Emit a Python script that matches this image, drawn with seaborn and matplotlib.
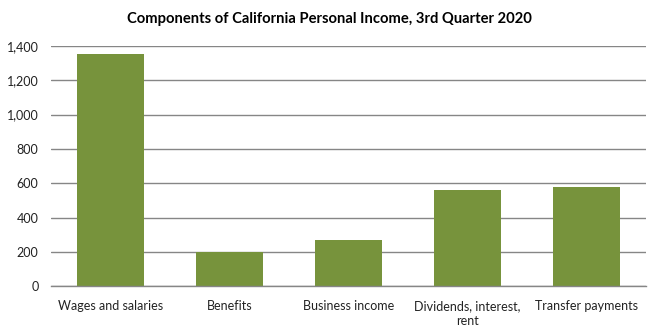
import matplotlib
matplotlib.use("Agg")
import matplotlib.pyplot as plt
import seaborn as sns
import pandas as pd
from matplotlib.ticker import FuncFormatter

# Components of personal income (billions of dollars, annual rate)
categories = ["Wages and salaries", "Benefits", "Business income",
              "Dividends, interest,\nrent", "Transfer payments"]
values = [1355, 199, 270, 562, 579]
y_ticks = [0, 200, 400, 600, 800, 1000, 1200, 1400]

df = pd.DataFrame({"component": categories, "income": values})

sns.set_theme(style="white")
plt.rcParams["font.family"] = ["Lato", "DejaVu Sans"]

fig = plt.figure(figsize=(6.58, 3.35), dpi=100)
ax = fig.add_axes([0.0775, 0.1454, 0.9043, 0.7173])

sns.barplot(data=df, x="component", y="income", color="#77933C",
            saturation=1, width=0.571, linewidth=0, ax=ax)

ax.set_ylim(0, 1400)
ax.set_yticks(y_ticks)
ax.yaxis.set_major_formatter(FuncFormatter(lambda v, _: f"{int(v):,}"))
ax.set_xlim(-0.5, len(categories) - 0.5)
ax.grid(axis="y", color="#868686", linewidth=1)
ax.set_axisbelow(True)
for side in ["top", "right", "left"]:
    ax.spines[side].set_visible(False)
ax.spines["bottom"].set_color("#868686")
ax.spines["bottom"].set_linewidth(1)
ax.tick_params(axis="both", length=0, labelsize=9, colors="#222222", pad=10)
ax.tick_params(axis="y", pad=9)
ax.set_xlabel("")
ax.set_ylabel("")
for lbl in ax.get_xticklabels():
    lbl.set_linespacing(1.3)

fig.suptitle("Components of California Personal Income, 3rd Quarter 2020",
             x=0.5, y=0.965, fontsize=10.6, fontweight="bold", color="#000000")

fig.savefig("out.png", dpi=100)
